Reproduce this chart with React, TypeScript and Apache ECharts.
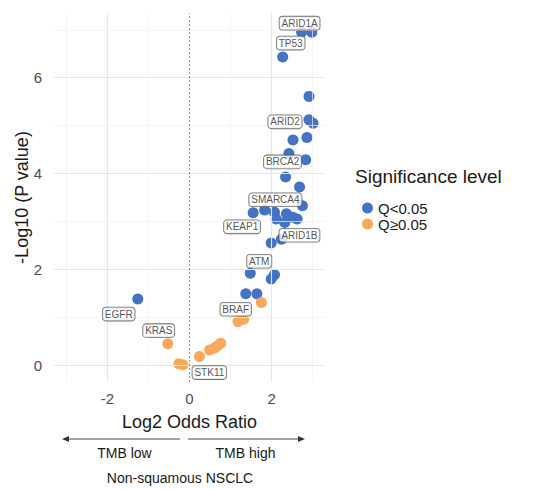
import { useEffect, useRef } from "react";
import * as echarts from "echarts";

// Genes with Q < 0.05
const sigLog2OR = [2.73, 2.98, 2.27, 2.91, 2.91, 3.01, 2.52, 2.86, 2.42, 2.83, 2.34, 2.68, 2.75, 1.55, 1.83, 2.07, 2.11, 2.36, 2.52, 2.62, 2.32, 2.24, 1.99, 1.48, 2.07, 1.99, 1.37, 1.64, -1.26];
const sigNegLog10P = [6.95, 6.95, 6.43, 5.61, 5.12, 5.05, 4.7, 4.75, 4.42, 4.29, 3.93, 3.72, 3.33, 3.18, 3.24, 3.19, 3.05, 3.16, 3.09, 3.05, 2.98, 2.63, 2.55, 1.92, 1.89, 1.8, 1.49, 1.49, 1.38];
const sigGenes = ["ARID1A", "", "TP53", "", "ARID2", "", "", "", "", "", "BRCA2", "", "", "KEAP1", "", "", "", "SMARCA4", "", "", "", "ARID1B", "", "ATM", "", "", "", "", "EGFR"];

// Genes with Q >= 0.05
const nsLog2OR = [1.75, 1.32, 1.18, -0.53, -0.26, -0.16, 0.24, 0.49, 0.61, 0.76, 0.68];
const nsNegLog10P = [1.31, 0.96, 0.91, 0.45, 0.03, 0.01, 0.18, 0.32, 0.36, 0.46, 0.4];
const nsGenes = ["", "BRAF", "", "KRAS", "", "", "STK11", "", "", "", ""];

const seriesNames = ["Q<0.05", "Q\u22650.05"];
const xTicks = [-2, 0, 2];
const yTicks = [0, 2, 4, 6];
const xMinor = [-3, -1, 1, 3];
const yMinor = [1, 3, 5, 7];

// where each gene's tag sits relative to its point, in pixels
const labelOffsets: Record<string, [number, number]> = {
  ARID1A: [-2, -9],
  TP53: [8, -14],
  ARID2: [-24, 2],
  BRCA2: [-3, -15],
  SMARCA4: [-11, -14],
  KEAP1: [-11, 14],
  ARID1B: [18, -4],
  ATM: [9, -12],
  BRAF: [-8, -10],
  EGFR: [-19, 15],
  KRAS: [-9, -13],
  STK11: [10, 16],
};

const FONT = "'Liberation Sans', Arial, sans-serif";

function toPoints(xs: number[], ys: number[]) {
  return xs.map((x, i) => [x, ys[i]]);
}

// gene tags, drawn in their own layer above every point
function tagPoints() {
  const tags: any[] = [];
  const add = (xs: number[], ys: number[], genes: string[]) => {
    genes.forEach((gene, i) => {
      if (!gene) return;
      tags.push({
        value: [xs[i], ys[i]],
        label: { show: true, formatter: gene, offset: labelOffsets[gene] },
      });
    });
  };
  add(sigLog2OR, sigNegLog10P, sigGenes);
  add(nsLog2OR, nsNegLog10P, nsGenes);
  return tags;
}

export default function App() {
  const ref = useRef<HTMLDivElement>(null);

  useEffect(() => {
    if (!ref.current) return;
    const chart = echarts.init(ref.current, undefined, { renderer: "svg" });

    const major = { color: "#E6E6E6", width: 1.1, type: "solid" };
    const minor = { color: "#F1F1F1", width: 0.7, type: "solid" };

    chart.setOption({
      animation: false,
      textStyle: { fontFamily: FONT },
      grid: { left: 54, right: 209, top: 13, bottom: 107 },
      xAxis: {
        type: "value",
        min: -3.3,
        max: 3.3,
        name: "Log2 Odds Ratio",
        nameLocation: "middle",
        nameGap: 31,
        nameMoveOverlap: false,
        nameTextStyle: { fontSize: 18, color: "#1a1a1a", fontFamily: FONT },
        axisLine: { show: false },
        axisTick: { show: false },
        splitLine: { show: false },
        axisLabel: { customValues: xTicks, fontSize: 15, color: "#4D4D4D", margin: 9, fontFamily: FONT },
      },
      yAxis: {
        type: "value",
        min: -0.35,
        max: 7.35,
        name: "-Log10 (P value)",
        nameLocation: "middle",
        nameRotate: 90,
        nameGap: 23,
        nameMoveOverlap: false,
        nameTextStyle: { fontSize: 18, color: "#1a1a1a", fontFamily: FONT },
        axisLine: { show: false },
        axisTick: { show: false },
        splitLine: { show: false },
        axisLabel: { customValues: yTicks, fontSize: 15, color: "#4D4D4D", margin: 12, fontFamily: FONT },
      },
      legend: {
        data: seriesNames,
        orient: "vertical",
        left: 357,
        top: 195,
        icon: "circle",
        itemWidth: 11,
        itemHeight: 11,
        itemGap: 0,
        textStyle: { fontSize: 15, color: "#1a1a1a", lineHeight: 16, fontFamily: FONT },
      },
      series: [
        {
          name: "grid",
          type: "scatter",
          data: [[0, 0]],
          symbolSize: 0,
          silent: true,
          z: 1,
          markLine: {
            silent: true,
            symbol: ["none", "none"],
            label: { show: false },
            data: [
              ...xMinor.map((v) => ({ xAxis: v, lineStyle: minor })),
              ...yMinor.map((v) => ({ yAxis: v, lineStyle: minor })),
              ...xTicks.filter((v) => v !== 0).map((v) => ({ xAxis: v, lineStyle: major })),
              ...yTicks.map((v) => ({ yAxis: v, lineStyle: major })),
              { xAxis: 0, lineStyle: { color: "#8C8C8C", width: 0.9, type: [2, 2] } },
            ],
          },
        },
        {
          name: seriesNames[0],
          type: "scatter",
          symbolSize: 11,
          z: 3,
          itemStyle: { color: "#4472C4", opacity: 1 },
          data: toPoints(sigLog2OR, sigNegLog10P),
        },
        {
          name: seriesNames[1],
          type: "scatter",
          symbolSize: 11,
          z: 3,
          itemStyle: { color: "#F9A85C", opacity: 1 },
          data: toPoints(nsLog2OR, nsNegLog10P),
        },
        {
          name: "tags",
          type: "scatter",
          symbolSize: 1,
          silent: true,
          z: 6,
          itemStyle: { color: "rgba(0,0,0,0)" },
          label: {
            show: false,
            position: "inside",
            fontFamily: FONT,
            fontSize: 10,
            color: "#262626",
            backgroundColor: "#fff",
            borderColor: "#4d4d4d",
            borderWidth: 0.8,
            borderRadius: 3,
            padding: [2, 2, 1, 2],
          },
          data: tagPoints(),
        },
      ],
      graphic: [
        {
          type: "text",
          left: 355,
          top: 167,
          style: { text: "Significance level", fontSize: 19, fill: "#1a1a1a", fontFamily: FONT },
        },
        { type: "line", shape: { x1: 64, y1: 439, x2: 180, y2: 439 }, style: { stroke: "#333", lineWidth: 0.9 } },
        { type: "polygon", shape: { points: [[62, 439], [69, 436], [69, 442]] }, style: { fill: "#333" } },
        { type: "line", shape: { x1: 188, y1: 439, x2: 303, y2: 439 }, style: { stroke: "#333", lineWidth: 0.9 } },
        { type: "polygon", shape: { points: [[305, 439], [298, 436], [298, 442]] }, style: { fill: "#333" } },
        {
          type: "text",
          x: 124.5,
          y: 453,
          style: { text: "TMB low", fontSize: 14, fill: "#1a1a1a", align: "center", verticalAlign: "middle", fontFamily: FONT },
        },
        {
          type: "text",
          x: 245.5,
          y: 453,
          style: { text: "TMB high", fontSize: 14, fill: "#1a1a1a", align: "center", verticalAlign: "middle", fontFamily: FONT },
        },
        {
          type: "text",
          x: 180,
          y: 478,
          style: { text: "Non-squamous NSCLC", fontSize: 14, fill: "#1a1a1a", align: "center", verticalAlign: "middle", fontFamily: FONT },
        },
      ],
    });

    return () => chart.dispose();
  }, []);

  return <div ref={ref} style={{ width: 534, height: 489, position: "absolute", left: 0, top: 0 }} />;
}
